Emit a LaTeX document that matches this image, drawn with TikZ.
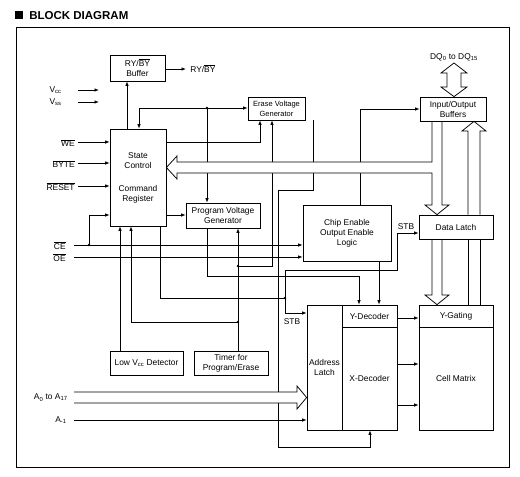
\documentclass[tikz,border=0pt]{standalone}
\usepackage{fontspec}
\setmainfont{Liberation Sans}
\usetikzlibrary{arrows.meta}
\newcommand{\ovl}[1]{$\overline{\mbox{#1}}$}
\begin{document}
\begin{tikzpicture}[x=1pt,y=-1pt,line width=0.75pt,
  font=\fontsize{8.4}{10}\selectfont,
  >={Latex[length=4.5pt,width=3.5pt]},
  blk/.style={draw,fill=white,inner sep=0pt,align=center},
  arr/.style={->},
  jdot/.style={circle,fill,inner sep=0pt,minimum size=2.6pt},
  lbl/.style={inner sep=0pt}]
\useasboundingbox (0,0) rectangle (520,477);
% title and frame
\fill (15,11) rectangle (23,19);
\node[lbl,anchor=base west,font=\fontsize{11.5}{13}\selectfont\bfseries] (title) at (29,19) {BLOCK DIAGRAM};
\draw (16,27) rectangle (509,467);
% blocks
\node[blk,minimum width=55,minimum height=26] (ry) at (137.5,68) {RY/\ovl{BY}\\Buffer};
\node[blk,minimum width=56,minimum height=97] (sc) at (138,177.5) {State\\Control\\[13pt]Command\\Register};
\node[blk,minimum width=57,minimum height=23,font=\fontsize{7.5}{10}\selectfont] (evg) at (276.5,108.5) {Erase Voltage\\Generator};
\node[blk,minimum width=74,minimum height=25] (pvg) at (223,215.5) {Program Voltage\\Generator};
\node[blk,minimum width=66,minimum height=24] (io) at (453,109) {Input/Output\\Buffers};
\node[blk,minimum width=88,minimum height=56] (ceoe) at (347,233) {Chip Enable\\Output Enable\\Logic};
\node[blk,minimum width=74,minimum height=24] (dl) at (456,227) {Data Latch};
\node[blk,minimum width=35,minimum height=125] (al) at (324.5,367.5) {Address\\Latch};
\node[blk,minimum width=55,minimum height=22] (yd) at (369.5,316) {Y-Decoder};
\node[blk,minimum width=55,minimum height=103] (xd) at (369.5,378.5) {X-Decoder};
\node[blk,minimum width=74,minimum height=22] (yg) at (456,316) {Y-Gating};
\node[blk,minimum width=74,minimum height=103] (cm) at (456,378.5) {Cell Matrix};
\node[blk,minimum width=73,minimum height=24] (lvd) at (146.5,363) {Low V\textsubscript{cc} Detector};
\node[blk,minimum width=74,minimum height=24] (tmr) at (231,363) {Timer for\\Program/Erase};
% external labels
\node[lbl,anchor=west] (rylbl) at (190,69) {RY/\ovl{BY}};
\node[lbl,anchor=east] (vcc) at (62,90) {V\textsubscript{cc}};
\node[lbl,anchor=east] (vss) at (62,102) {V\textsubscript{ss}};
\node[lbl,anchor=east] (we) at (75,143) {\ovl{WE}};
\node[lbl,anchor=east] (byte) at (75,164) {\ovl{BYTE}};
\node[lbl,anchor=east] (reset) at (75,187) {\ovl{RESET}};
\node[lbl,anchor=east] (ce) at (66,246) {\ovl{CE}};
\node[lbl,anchor=east] (oe) at (66,258) {\ovl{OE}};
\node[lbl,anchor=east] (addr) at (68,397.5) {A\textsubscript{0} to A\textsubscript{17}};
\node[lbl,anchor=east] (am1) at (67,420) {A\textsubscript{-1}};
\node[lbl] (dq) at (454,57) {DQ\textsubscript{0} to DQ\textsubscript{15}};
\node[lbl] (stb1) at (406,227) {STB};
\node[lbl] (stb2) at (292,322) {STB};
% simple inputs
\draw[arr] (ry.east |- 0,69) -- ([xshift=-4pt]rylbl.west);
\draw[arr] (127,0 |- sc.north) -- (127,0 |- ry.south);
\draw[arr] ([xshift=16pt]vcc.east |- 0,90) -- ++(21,0);
\draw[arr] ([xshift=16pt]vss.east |- 0,102) -- ++(21,0);
\draw[arr] (78,142) -- (sc.west |- 0,142);
\draw[arr] (78,163) -- (sc.west |- 0,163);
\draw[arr] (78,186) -- (sc.west |- 0,186);
\draw[arr] (74,245) -- (ceoe.west |- 0,245);
\draw[arr] (74,257) -- (ceoe.west |- 0,257);
\draw[arr] (89,245) -- (89,215) -- (sc.west |- 0,215);
\node[jdot] (j0) at (89,245) {};
\draw[arr] (sc.east |- 0,215) -- (pvg.west |- 0,215);
% control nets
\draw[arr] (207,108) -- (139,108) -- (139,0 |- sc.north);
\draw[arr] (207,108) -- (evg.west |- 0,108);
\draw[arr] (207,108) -- (207,0 |- pvg.north);
\node[jdot] (j1) at (207,108) {};
\draw[arr] (sc.east |- 0,142) -- (260,142) -- (260,0 |- evg.south);
\draw[arr] (238,0 |- tmr.north) -- (238,0 |- pvg.south);
\draw[arr] (238,322) -- (131,322) -- (131,0 |- sc.south);
\draw[arr] (238,266) -- (272,266) -- (272,0 |- evg.south);
\node[jdot] (j2) at (238,322) {};
\node[jdot] (j3) at (238,266) {};
\draw[arr] (120,0 |- lvd.north) -- (120,0 |- sc.south);
\draw (160,0 |- sc.south) -- (160,298) -- (285,298);
\draw[arr] (285,298) -- (285,270) -- (397,270) -- (397,233) -- (dl.west |- 0,233);
\draw[arr] (285,298) -- (285,313) -- (al.west |- 0,313);
\node[jdot] (j4) at (285,298) {};
\draw[arr] (313,0 |- evg.south) -- (313,190) -- (278,190) -- (278,447) -- (370,447) -- (370,0 |- xd.south);
\draw[arr] (207,0 |- pvg.south) -- (207,276) -- (359,276) -- (359,0 |- yd.north);
\draw[arr] (379,0 |- ceoe.south) -- (379,0 |- yd.north);
\draw[arr] (360,0 |- ceoe.north) -- (360,109) -- (io.west |- 0,109);
\draw[arr] (yd.east |- 0,318) -- (yg.west |- 0,318);
\draw[arr] (xd.east |- 0,364) -- (cm.west |- 0,364);
\draw[arr] (xd.east |- 0,405) -- (cm.west |- 0,405);
\draw[arr] (74,420) -- (al.west |- 0,420);
% data bus (T shape)
\draw[fill=white] (sc.east |- 0,167.5) -- (177,156) -- (177,162) -- (432,162) -- (432,0 |- io.south)
  -- (442,0 |- io.south) -- (442,205) -- (449,205) -- (437,0 |- dl.north) -- (425,205) -- (432,205)
  -- (432,173) -- (177,173) -- (177,179) -- cycle;
% DQ double arrow
\draw[fill=white] (454,63) -- (467,73) -- (461,73) -- (461,87) -- (467,87) -- (454,0 |- io.north)
  -- (441,87) -- (447,87) -- (447,73) -- (441,73) -- cycle;
% up bus Y-gating -> I/O buffers
\draw (468,0 |- yg.north) -- (468,0 |- dl.south);
\draw (480,0 |- yg.north) -- (480,0 |- dl.south);
\draw (468,0 |- dl.north) -- (468,131) -- (462,131) -- (474,0 |- io.south) -- (486,131) -- (480,131) -- (480,0 |- dl.north);
% down bus data latch -> Y-gating
\draw (432,0 |- dl.south) -- (432,295) -- (425,295) -- (437,0 |- yg.north) -- (449,295) -- (442,295) -- (442,0 |- dl.south);
% address bus
\fill[white] (74,392) -- (297,392) -- (297,386) -- (al.west |- 0,397.5) -- (297,409) -- (297,403) -- (74,403) -- cycle;
\draw (74,392) -- (297,392) -- (297,386) -- (al.west |- 0,397.5) -- (297,409) -- (297,403) -- (74,403);
\end{tikzpicture}
\end{document}
